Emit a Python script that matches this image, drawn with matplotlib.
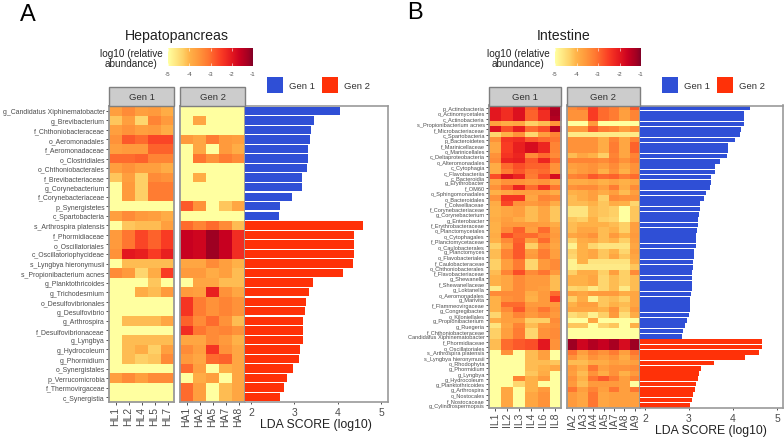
import numpy as np
import matplotlib
matplotlib.use("Agg")
import matplotlib.pyplot as plt
from matplotlib.colors import LinearSegmentedColormap
from matplotlib.cm import ScalarMappable
from matplotlib.patches import Rectangle

plt.rcParams["font.family"] = ["Liberation Sans", "DejaVu Sans"]

W, H = 784, 439

# Hepatopancreas
hp_taxa = ["g_Candidatus Xiphinematobacter", "g_Brevibacterium", "f_Chthoniobacteraceae", "o_Aeromonadales",
           "f_Aeromonadaceae", "o_Clostridiales", "o_Chthoniobacterales", "f_Brevibacteriaceae",
           "g_Corynebacterium", "f_Corynebacteriaceae", "p_Synergistetes", "c_Spartobacteria",
           "s_Arthrospira platensis", "f_Phormidiaceae", "o_Oscillatoriales", "c_Oscillatoriophycideae",
           "s_Lyngbya hieronymusii", "s_Propionibacterium acnes", "g_Planktothricoides", "g_Trichodesmium",
           "o_Desulfovibrionales", "g_Desulfovibrio", "g_Arthrospira", "f_Desulfovibrionaceae", "g_Lyngbya",
           "g_Hydrocoleum", "g_Phormidium", "o_Synergistales", "p_Verrucomicrobia", "f_Thermovirgaceae",
           "c_Synergistia"]
hp_gen1_samples = ["HL1", "HL2", "HL4", "HL5", "HL7"]
hp_gen2_samples = ["HA1", "HA2", "HA5", "HA7", "HA8"]
hp_gen1 = [
    [-3.7, -3.4, -3.7, -3.6, -3.9],
    [-4.2, -3.7, -4.4, -3.3, -3.6],
    [-3.7, -3.5, -3.7, -3.6, -3.9],
    [-3.5, -2.8, -3.0, -2.6, -2.6],
    [-3.7, -3.6, -3.6, -2.9, -2.9],
    [-3.0, -3.0, -2.9, -3.3, -3.3],
    [-3.7, -3.5, -3.7, -3.7, -3.9],
    [-4.2, -3.7, -4.3, -3.4, -3.5],
    [-5.0, -3.6, -4.3, -3.2, -3.2],
    [-5.0, -3.6, -4.3, -3.2, -3.2],
    [-5.0, -5.0, -5.0, -5.0, -5.0],
    [-3.7, -3.4, -3.6, -3.7, -3.9],
    [-5.0, -4.2, -4.1, -4.1, -3.7],
    [-3.6, -3.1, -2.6, -2.9, -2.5],
    [-3.6, -3.1, -2.6, -2.9, -2.5],
    [-3.5, -2.0, -2.1, -2.5, -2.1],
    [-5.0, -4.1, -4.1, -4.1, -4.1],
    [-3.4, -3.6, -4.4, -3.9, -2.5],
    [-5.0, -5.0, -5.0, -4.2, -5.0],
    [-5.0, -5.0, -3.9, -4.1, -3.6],
    [-5.0, -5.0, -5.0, -5.0, -5.0],
    [-5.0, -5.0, -5.0, -5.0, -5.0],
    [-5.0, -4.1, -4.1, -4.1, -3.8],
    [-5.0, -5.0, -5.0, -5.0, -5.0],
    [-5.0, -4.1, -4.1, -4.1, -4.1],
    [-5.0, -4.1, -3.9, -4.3, -3.7],
    [-5.0, -4.1, -4.3, -4.2, -3.4],
    [-5.0, -5.0, -5.0, -5.0, -5.0],
    [-3.7, -3.4, -3.7, -3.4, -3.4],
    [-5.0, -5.0, -5.0, -5.0, -5.0],
    [-5.0, -5.0, -5.0, -5.0, -5.0],
]
hp_gen2 = [
    [-5.0, -5.0, -5.0, -5.0, -5.0],
    [-5.0, -3.8, -5.0, -5.0, -5.0],
    [-5.0, -5.0, -5.0, -5.0, -5.0],
    [-3.6, -3.8, -3.2, -3.6, -3.7],
    [-5.0, -3.8, -5.0, -3.6, -3.9],
    [-5.0, -3.1, -3.5, -3.2, -3.4],
    [-5.0, -5.0, -5.0, -5.0, -5.0],
    [-5.0, -3.9, -5.0, -5.0, -5.0],
    [-5.0, -5.0, -5.0, -5.0, -5.0],
    [-5.0, -5.0, -5.0, -5.0, -5.0],
    [-2.8, -3.5, -5.0, -4.2, -3.8],
    [-5.0, -5.0, -5.0, -5.0, -5.0],
    [-3.0, -3.3, -3.0, -3.4, -4.1],
    [-1.6, -1.7, -1.2, -1.6, -2.3],
    [-1.6, -1.7, -1.2, -1.6, -2.3],
    [-1.6, -1.7, -1.2, -1.6, -2.3],
    [-3.8, -3.8, -3.4, -3.7, -4.0],
    [-3.6, -3.6, -3.9, -3.7, -4.1],
    [-5.0, -3.8, -3.8, -4.1, -4.1],
    [-3.6, -3.7, -2.1, -3.5, -3.8],
    [-2.4, -3.2, -3.5, -3.3, -3.5],
    [-2.4, -3.2, -3.5, -3.3, -3.5],
    [-2.9, -3.4, -3.0, -3.5, -4.1],
    [-2.3, -3.1, -3.4, -3.3, -3.5],
    [-3.8, -3.8, -3.4, -3.6, -4.0],
    [-3.4, -3.7, -2.4, -3.5, -3.8],
    [-3.6, -3.8, -3.0, -2.9, -3.8],
    [-3.0, -3.7, -5.0, -4.0, -3.8],
    [-5.0, -3.9, -3.7, -5.0, -3.8],
    [-3.0, -3.7, -5.0, -4.1, -3.8],
    [-3.0, -3.7, -5.0, -4.1, -3.8],
]
hp_lda_gen1 = [4.05, 3.45, 3.38, 3.35, 3.31, 3.31, 3.30, 3.18, 3.17, 2.95, 2.68, 2.65]
hp_lda_gen2 = [4.59, 4.38, 4.38, 4.38, 4.36, 4.13, 3.43, 3.34, 3.26, 3.24, 3.21, 3.19, 3.19, 3.13, 3.11,
               2.96, 2.82, 2.77, 2.66]

# Intestine
in_taxa = ["p_Actinobacteria", "o_Actinomycetales", "c_Actinobacteria", "s_Propionibacterium acnes",
           "f_Microbacteriaceae", "c_Spartobacteria", "p_Bacteroidetes", "f_Marinicellaceae", "o_Marinicellales",
           "c_Deltaproteobacteria", "o_Alteromonadales", "c_Cytophagia", "c_Flavobacteriia", "c_Bacteroidia",
           "g_Erythrobacter", "f_OM60", "o_Sphingomonadales", "o_Bacteroidales", "f_Colwelliaceae",
           "f_Corynebacteriaceae", "g_Corynebacterium", "g_Enterobacter", "f_Erythrobacteraceae",
           "o_Planctomycetales", "o_Cytophagales", "f_Planctomycetaceae", "o_Caulobacterales", "g_Planctomyces",
           "o_Flavobacteriales", "f_Caulobacteraceae", "o_Chthoniobacterales", "f_Flavobacteriaceae",
           "g_Shewanella", "f_Shewanellaceae", "g_Loktanella", "o_Aeromonadales", "g_Marivita",
           "f_Flammeovirgaceae", "g_Congregibacter", "o_Kiloniellales", "g_Propionibacterium", "g_Ruegeria",
           "f_Chthoniobacteraceae", "Candidatus Xiphinematobacter", "f_Phormidiaceae", "o_Oscillatoriales",
           "s_Arthrospira platensis", "s_Lyngbya hieronymusii", "o_Rhodophyta", "g_Phormidium", "g_Lyngbya",
           "g_Hydrocoleum", "g_Planktothricoides", "g_Arthrospira", "o_Nostocales", "f_Nostocaceae",
           "g_Cylindrospermopsis"]
in_gen1_samples = ["IL1", "IL2", "IL3", "IL4", "IL6", "IL8"]
in_gen2_samples = ["IA2", "IA3", "IA4", "IA5", "IA7", "IA8", "IA9"]
in_gen1 = [
    [-2.0, -2.3, -1.9, -2.8, -2.0, -1.4],
    [-2.0, -2.3, -1.9, -2.9, -2.3, -1.3],
    [-2.0, -2.3, -1.9, -2.9, -2.3, -1.4],
    [-3.7, -3.9, -3.8, -4.3, -4.1, -3.5],
    [-1.9, -2.7, -2.1, -3.0, -2.7, -1.5],
    [-4.4, -4.0, -3.5, -4.4, -3.7, -3.3],
    [-3.5, -2.4, -2.3, -2.8, -3.0, -3.1],
    [-3.8, -2.5, -2.1, -1.8, -2.2, -3.3],
    [-3.8, -2.5, -2.1, -1.8, -2.2, -3.3],
    [-3.5, -2.4, -2.2, -3.4, -3.0, -3.4],
    [-3.4, -2.2, -2.1, -2.8, -2.2, -3.0],
    [-3.9, -3.0, -2.7, -2.9, -2.9, -3.5],
    [-3.9, -3.2, -2.8, -3.1, -3.0, -3.5],
    [-2.7, -1.9, -2.2, -3.2, -2.7, -1.8],
    [-3.8, -3.5, -3.5, -3.6, -3.5, -3.8],
    [-3.5, -2.9, -2.2, -3.0, -2.4, -3.1],
    [-4.0, -3.8, -3.7, -3.7, -3.7, -3.9],
    [-3.5, -2.4, -2.4, -3.8, -3.3, -3.4],
    [-3.9, -2.6, -3.5, -3.6, -3.5, -3.9],
    [-4.0, -3.8, -3.7, -4.1, -3.8, -4.2],
    [-4.0, -3.8, -3.7, -4.1, -3.8, -4.2],
    [-3.9, -3.7, -3.9, -4.1, -3.8, -4.2],
    [-4.0, -3.6, -3.6, -3.6, -3.7, -3.9],
    [-4.0, -3.4, -2.9, -3.7, -3.0, -3.7],
    [-3.9, -2.7, -3.0, -3.0, -3.3, -3.6],
    [-4.0, -3.4, -2.9, -3.7, -3.0, -3.7],
    [-4.3, -3.7, -2.8, -4.3, -3.5, -3.8],
    [-4.1, -3.3, -2.8, -3.7, -3.2, -3.7],
    [-4.1, -3.3, -2.8, -3.6, -3.2, -3.7],
    [-4.3, -3.7, -3.2, -4.4, -3.6, -3.4],
    [-4.3, -3.7, -3.2, -4.4, -3.6, -3.4],
    [-4.1, -3.3, -2.7, -3.4, -3.1, -3.6],
    [-4.0, -3.8, -3.4, -3.6, -3.6, -4.1],
    [-4.0, -3.8, -3.4, -3.6, -3.6, -4.1],
    [-4.7, -3.8, -3.4, -3.6, -3.7, -4.1],
    [-3.4, -3.4, -3.4, -3.9, -3.6, -3.0],
    [-4.0, -3.5, -3.4, -4.0, -3.6, -2.5],
    [-4.0, -3.0, -3.0, -3.6, -3.6, -3.6],
    [-4.0, -3.4, -2.8, -3.5, -3.1, -3.5],
    [-4.4, -3.7, -3.3, -3.6, -3.4, -3.6],
    [-3.9, -3.7, -3.7, -4.3, -4.3, -3.4],
    [-4.6, -3.8, -3.3, -4.1, -3.6, -3.5],
    [-4.3, -3.7, -3.2, -4.4, -3.5, -3.4],
    [-4.3, -3.7, -3.2, -4.4, -3.5, -3.4],
    [-4.1, -3.0, -2.8, -2.7, -2.0, -3.5],
    [-4.1, -3.0, -2.8, -2.7, -2.0, -3.5],
    [-5.0, -3.5, -5.0, -4.1, -3.7, -5.0],
    [-5.0, -5.0, -5.0, -4.1, -3.7, -5.0],
    [-5.0, -5.0, -5.0, -4.1, -4.1, -4.2],
    [-5.0, -5.0, -5.0, -4.1, -4.0, -3.8],
    [-5.0, -5.0, -5.0, -4.2, -3.9, -5.0],
    [-5.0, -5.0, -3.3, -4.0, -3.6, -5.0],
    [-5.0, -5.0, -4.4, -4.0, -5.0, -5.0],
    [-5.0, -3.8, -5.0, -4.0, -3.6, -5.0],
    [-5.0, -3.8, -5.0, -3.8, -3.5, -5.0],
    [-5.0, -3.8, -5.0, -3.8, -3.5, -5.0],
    [-5.0, -3.8, -5.0, -3.8, -3.5, -5.0],
]
in_gen2 = [
    [-3.4, -3.2, -2.5, -3.0, -3.2, -3.6, -2.8],
    [-3.5, -3.5, -2.5, -3.0, -3.2, -3.7, -3.3],
    [-3.5, -3.5, -2.5, -3.0, -3.2, -3.7, -3.3],
    [-5.0, -5.0, -3.6, -5.0, -5.0, -5.0, -5.0],
    [-3.6, -3.6, -2.8, -3.2, -3.3, -3.7, -3.4],
    [-4.7, -4.7, -4.7, -4.7, -4.7, -4.7, -4.7],
    [-3.5, -3.5, -3.5, -3.9, -3.3, -3.8, -3.3],
    [-3.5, -3.5, -3.5, -3.9, -3.2, -3.8, -2.9],
    [-3.5, -3.5, -3.5, -3.9, -3.2, -3.8, -2.9],
    [-4.1, -3.8, -4.0, -4.3, -3.3, -3.8, -3.3],
    [-3.3, -3.3, -3.3, -3.4, -3.2, -3.5, -3.2],
    [-3.7, -3.6, -3.5, -3.7, -3.4, -3.8, -3.5],
    [-3.8, -3.6, -3.5, -4.0, -3.5, -4.0, -3.5],
    [-3.3, -3.2, -2.8, -3.0, -2.9, -3.2, -3.0],
    [-3.9, -3.9, -3.8, -4.0, -3.8, -4.0, -3.8],
    [-3.5, -3.4, -3.4, -3.7, -3.2, -3.9, -3.4],
    [-4.0, -3.9, -3.7, -3.9, -3.7, -4.1, -3.7],
    [-4.1, -3.9, -3.7, -4.3, -3.4, -3.5, -3.5],
    [-4.1, -4.1, -4.0, -4.2, -3.9, -4.0, -4.4],
    [-4.6, -4.6, -4.1, -4.2, -4.3, -5.0, -4.2],
    [-4.6, -4.6, -4.1, -4.2, -4.3, -5.0, -4.2],
    [-4.2, -4.3, -4.0, -4.3, -4.4, -5.0, -4.2],
    [-4.1, -4.0, -4.0, -4.0, -4.1, -4.3, -3.7],
    [-4.1, -3.8, -3.8, -4.1, -4.0, -4.3, -3.7],
    [-3.8, -3.7, -3.5, -4.1, -3.6, -4.0, -3.6],
    [-4.3, -3.9, -3.8, -4.1, -4.0, -4.3, -3.7],
    [-4.8, -4.0, -4.4, -4.6, -4.6, -4.6, -3.8],
    [-4.3, -4.0, -3.8, -4.2, -4.0, -4.4, -3.7],
    [-4.4, -4.0, -3.8, -4.2, -3.8, -4.2, -3.8],
    [-4.8, -4.0, -4.6, -4.6, -4.6, -4.6, -3.9],
    [-4.8, -4.7, -4.7, -4.7, -4.7, -4.7, -4.2],
    [-4.3, -3.9, -3.9, -4.3, -3.7, -4.3, -3.4],
    [-4.0, -4.0, -3.8, -4.4, -4.1, -4.3, -4.1],
    [-4.0, -4.0, -3.8, -4.4, -4.1, -4.3, -4.1],
    [-4.4, -4.3, -4.7, -4.4, -4.1, -4.7, -4.1],
    [-3.7, -3.8, -3.6, -3.6, -3.6, -3.9, -3.8],
    [-4.3, -3.9, -4.8, -4.2, -4.1, -4.3, -3.8],
    [-4.0, -3.7, -3.7, -4.2, -4.0, -4.1, -3.8],
    [-3.8, -3.8, -3.8, -4.0, -3.5, -4.2, -3.6],
    [-4.5, -4.3, -4.8, -4.3, -3.6, -4.5, -3.9],
    [-5.0, -5.0, -3.8, -5.0, -5.0, -5.0, -5.0],
    [-4.2, -4.2, -5.0, -4.4, -4.2, -5.0, -4.0],
    [-5.0, -5.0, -5.0, -5.0, -5.0, -5.0, -5.0],
    [-5.0, -5.0, -5.0, -5.0, -5.0, -5.0, -5.0],
    [-1.2, -1.7, -1.4, -1.6, -1.3, -1.8, -1.2],
    [-1.2, -1.7, -1.4, -1.6, -1.3, -1.8, -1.2],
    [-3.1, -3.7, -3.3, -3.5, -3.2, -3.7, -3.1],
    [-3.5, -3.9, -3.5, -3.7, -3.5, -3.9, -3.4],
    [-4.1, -4.1, -3.9, -3.9, -3.7, -3.8, -3.7],
    [-3.6, -3.9, -3.1, -3.7, -3.5, -3.5, -3.4],
    [-3.7, -4.1, -3.5, -3.9, -3.5, -4.0, -3.6],
    [-3.5, -4.0, -3.1, -2.8, -3.2, -3.7, -3.3],
    [-3.6, -4.1, -3.6, -3.6, -3.6, -3.7, -5.0],
    [-3.1, -3.7, -3.3, -3.7, -3.1, -3.7, -3.1],
    [-3.6, -3.8, -3.1, -3.8, -3.7, -3.7, -3.7],
    [-3.6, -3.8, -3.1, -3.8, -3.7, -3.7, -3.7],
    [-3.6, -3.8, -3.1, -3.8, -3.7, -3.7, -3.7],
]
in_lda_gen1 = [4.38, 4.24, 4.24, 4.24, 4.18, 4.17, 4.05, 3.88, 3.88, 3.87, 3.70, 3.58, 3.58, 3.50, 3.49,
               3.48, 3.38, 3.35, 3.25, 3.24, 3.23, 3.21, 3.20, 3.18, 3.17, 3.16, 3.15, 3.12, 3.12, 3.10,
               3.09, 3.07, 3.07, 3.06, 3.06, 3.04, 3.03, 3.03, 3.02, 3.01, 2.96, 2.92, 2.86, 2.83]
in_lda_gen2 = [4.65, 4.65, 4.60, 4.28, 3.57, 3.28, 3.23, 3.20, 3.15, 3.13, 3.10, 3.07, 3.03]

BLUE = "#2f4fd6"
RED = "#ff3108"
GREY = "#7f7f7f"
TXT = "#4d4d4d"

cmap = LinearSegmentedColormap.from_list("abund", [
    (0.0, "#ffffa0"), (0.175, "#fed066"), (0.25, "#ffb248"), (0.35, "#ff9a3c"), (0.475, "#ff7630"),
    (0.625, "#fa3c24"), (0.75, "#e4181f"), (0.85, "#c80020"), (0.95, "#a00022"), (1.0, "#800026")])

fig = plt.figure(figsize=(W / 100, H / 100), dpi=100, facecolor="white")


def box(x0, y0, x1, y1):
    # pixel box (y from the top) to figure fractions
    return [x0 / W, 1 - y1 / H, (x1 - x0) / W, (y1 - y0) / H]


def put(x, y, s, **kw):
    fig.text(x / W, 1 - y / H, s, ha=kw.pop("ha", "center"), va=kw.pop("va", "center"), **kw)


def heat(rect, strip_top, values, samples, name, labels=None, lab_size=5, x_size=7):
    ax = fig.add_axes(box(*rect))
    ax.imshow(np.array(values), cmap=cmap, vmin=-5, vmax=-1, aspect="auto", interpolation="nearest")
    ax.set_xticks(range(len(samples)))
    ax.set_xticklabels(samples, rotation=90, fontsize=x_size, color=TXT)
    ax.tick_params(axis="x", length=2, width=0.6, color="#333333", pad=0.8)
    if labels:
        ax.set_yticks(range(len(labels)))
        ax.set_yticklabels(labels, fontsize=lab_size, color=TXT)
        ax.tick_params(axis="y", length=2, width=0.6, color="#333333", pad=1)
    else:
        ax.set_yticks([])
    for s in ax.spines.values():
        s.set_color("#999999")
        s.set_linewidth(1.3)
    x0, y0, x1, y1 = rect
    fig.add_artist(Rectangle((x0 / W, 1 - y0 / H), (x1 - x0) / W, (y0 - strip_top) / H, transform=fig.transFigure,
                             facecolor="#cccccc", edgecolor=GREY, linewidth=1))
    put((x0 + x1) / 2, (strip_top + y0) / 2 + 0.5, name, fontsize=6.8, color="#333333")


def bars(rect, xlim, lda1, lda2, x_size):
    ax = fig.add_axes(box(*rect))
    vals = lda1 + lda2
    cols = [BLUE] * len(lda1) + [RED] * len(lda2)
    ax.barh(range(len(vals)), vals, height=0.88, color=cols, linewidth=0)
    ax.set_xlim(*xlim)
    ax.set_ylim(len(vals) - 0.5, -0.5)
    ax.set_yticks([])
    ax.set_xticks([2, 3, 4, 5])
    ax.tick_params(axis="x", length=1.5, width=0.6, color="#333333", labelsize=x_size, labelcolor=TXT, pad=2)
    ax.spines["left"].set_visible(False)
    for k in ["top", "right", "bottom"]:
        ax.spines[k].set_color("#999999")
        ax.spines[k].set_linewidth(1.2)


def color_key(rect, label_x):
    cax = fig.add_axes(box(*rect))
    sm = ScalarMappable(cmap=cmap, norm=plt.Normalize(-5, -1))
    cb = fig.colorbar(sm, cax=cax, orientation="horizontal")
    cb.set_ticks([-5, -4, -3, -2, -1])
    cb.set_ticklabels(["-5", "-4", "-3", "-2", "-1"])
    cb.outline.set_visible(False)
    cax.tick_params(axis="x", direction="in", length=2.5, width=0.4, color="white", top=True,
                    labelsize=4.5, labelcolor=TXT, pad=3.5)
    put(label_x, 59, "log10 (relative\nabundance)", fontsize=7.2, color="#222222", linespacing=1.05)


def legend_keys(x):
    fig.add_artist(Rectangle((x / W, 1 - 94 / H), 16 / W, 16 / H, transform=fig.transFigure, facecolor=BLUE,
                             edgecolor="none"))
    put(x + 22, 86.5, "Gen 1", fontsize=6.8, color="#333333", ha="left")
    fig.add_artist(Rectangle(((x + 55) / W, 1 - 94 / H), 16 / W, 16 / H, transform=fig.transFigure, facecolor=RED,
                             edgecolor="none"))
    put(x + 77, 86.5, "Gen 2", fontsize=6.8, color="#333333", ha="left")


# panel A
heat((109, 107, 174, 403), 88, hp_gen1, hp_gen1_samples, "Gen 1", hp_taxa, lab_size=4.95, x_size=7.5)
heat((180, 107, 245, 403), 88, hp_gen2, hp_gen2_samples, "Gen 2", x_size=7.5)
bars((245, 107, 388, 403), (1.862, 5.16), hp_lda_gen1, hp_lda_gen2, 7.5)
color_key((168, 49, 253, 67), 131)
legend_keys(267)
put(28, 15, "A", fontsize=17, color="black")
put(177, 36, "Hepatopancreas", fontsize=10.2, color="#222222")
put(316, 425, "LDA SCORE (log10)", fontsize=8.8, color="#222222")

# panel B
heat((489, 106.5, 561, 409), 88, in_gen1, in_gen1_samples, "Gen 1", in_taxa, lab_size=4.05, x_size=7.5)
heat((567, 106.5, 640, 409), 88, in_gen2, in_gen2_samples, "Gen 2", x_size=7.5)
bars((640, 106.5, 783, 409), (1.886, 5.136), in_lda_gen1, in_lda_gen2, 7.5)
color_key((555, 49, 641, 67), 518)
legend_keys(662)
put(415, 13, "B", fontsize=17, color="black")
put(564, 36, "Intestine", fontsize=10.2, color="#222222")
put(711, 431, "LDA SCORE (log10)", fontsize=8.8, color="#222222")

fig.savefig("out.png", dpi=100)
